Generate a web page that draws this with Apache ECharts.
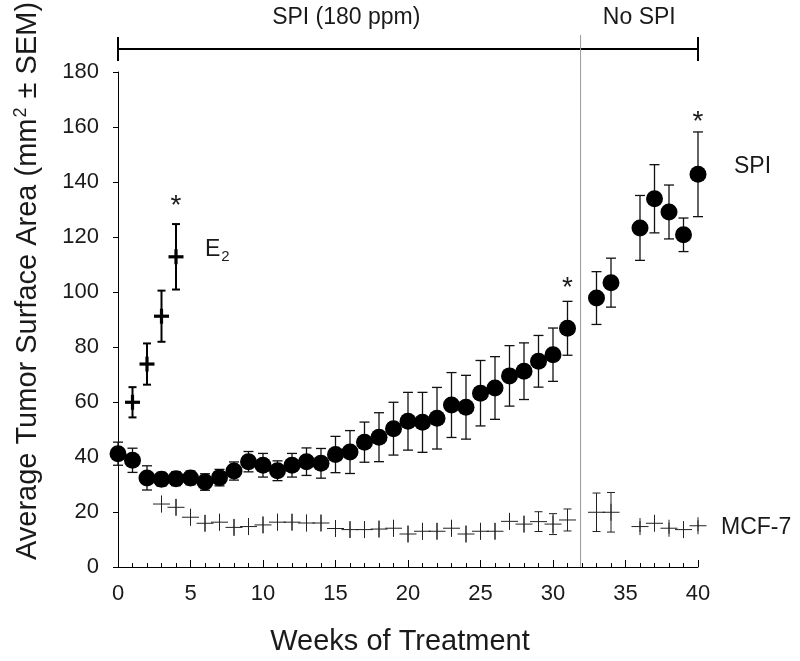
<!DOCTYPE html>
<html><head><meta charset="utf-8">
<script src="https://cdn.jsdelivr.net/npm/echarts@6/dist/echarts.min.js"></script>
<style>html,body{margin:0;padding:0;background:#fff}#c{width:800px;height:661px}</style>
</head><body><div id="c"></div>
<script>
// ---- data ----
const spiWeeks = [0,1,2,3,4,5,6,7,8,9,10,11,12,13,14,15,16,17,18,19,20,21,22,23,24,25,26,27,28,29,30,31,33,34,36,37,38,39,40];
const spiMean  = [41.2,38.8,32.4,31.9,32.1,32.4,30.9,32.5,34.9,38.3,37.0,35.0,37.0,38.3,37.7,40.9,41.8,45.4,47.2,50.3,53.0,52.6,54.1,58.9,58.1,63.2,65.1,69.5,71.2,74.8,77.2,86.8,97.8,103.4,123.3,133.9,129.1,120.8,142.8];
const spiSem   = [4.2,4.4,4.4,2.5,2.5,2.5,3.0,3.0,3.3,3.7,4.3,3.6,4.3,5.0,5.4,6.6,7.8,7.3,8.9,9.6,10.5,10.9,11.2,11.8,11.6,11.9,11.4,11.0,10.3,9.4,9.7,9.8,9.6,8.9,11.8,12.4,9.8,6.1,15.4];

const e2Weeks = [1,2,3,4];
const e2Mean  = [59.9,73.8,91.2,112.8];
const e2Sem   = [5.5,7.5,9.3,11.9];

const mcfWeeks = [3,4,5,6,7,8,9,10,11,12,13,14,15,16,17,18,19,20,21,22,23,24,25,26,27,28,29,30,31,33,34,36,37,38,39,40];
const mcfMean  = [22.9,21.7,18.1,15.9,16.3,14.4,14.7,15.3,16.3,16.3,16.0,16.0,14.0,13.6,13.6,13.8,14.1,12.0,13.0,13.0,14.1,12.0,13.0,13.0,16.6,15.6,16.5,15.6,17.1,19.9,19.9,14.7,15.9,14.1,13.6,15.0];
const mcfSem   = [3,3,3,3,3,3,3,3,3,3,3,3,3,3,3,3,3,3,3,3,3,3,3,3,3,3,3.6,3.8,4.0,7.0,7.2,2,2,2,2,2];

const significance = [[4,133.5],[31,103.5],[40,164]];   // asterisk annotations [week, value]
const phaseBreak = 31.9;                                  // SPI withdrawn
const xTicks = {min:0, max:40, step:5};
const yTicks = {min:0, max:180, step:20};

// ---- chart ----
const FONT = '"Liberation Sans", Arial, sans-serif';
const TXT = '#1a1a1a';
const chart = echarts.init(document.getElementById('c'), null, {renderer:'canvas'});

function rows(w, m, s){ return w.map((x,i)=>[x, m[i], s[i]]); }

function errRender(capHalf, lw, color, minPx){
  return function(params, api){
    const x = api.value(0), m = api.value(1), s = api.value(2);
    const t = api.coord([x, m + s]), b = api.coord([x, m - s]);
    const st = {stroke: color, lineWidth: lw};
    const ch = [{type:'line', shape:{x1:t[0], y1:t[1], x2:b[0], y2:b[1]}, style:st}];
    if ((b[1] - t[1]) / 2 > minPx) {
      ch.push({type:'line', shape:{x1:t[0]-capHalf, y1:t[1], x2:t[0]+capHalf, y2:t[1]}, style:st});
      ch.push({type:'line', shape:{x1:b[0]-capHalf, y1:b[1], x2:b[0]+capHalf, y2:b[1]}, style:st});
    }
    return {type:'group', children: ch};
  };
}
function plusRender(half, lw, color){
  return function(params, api){
    const p = api.coord([api.value(0), api.value(1)]);
    const st = {stroke: color, lineWidth: lw};
    return {type:'group', children:[
      {type:'line', shape:{x1:p[0]-half, y1:p[1], x2:p[0]+half, y2:p[1]}, style:st},
      {type:'line', shape:{x1:p[0], y1:p[1]-half, x2:p[0], y2:p[1]+half}, style:st}
    ]};
  };
}
function starRender(params, api){
  const p = api.coord([api.value(0), api.value(1)]);
  return {type:'text', x:p[0], y:p[1]+6, style:{text:'*', font:'28px ' + FONT, fill:TXT, align:'center', verticalAlign:'middle'}};
}

const option = {
  animation:false,
  backgroundColor:'#fff',
  grid:{left:118, right:102, top:72, bottom:94, containLabel:false},
  xAxis:{type:'value', min:xTicks.min, max:xTicks.max, interval:xTicks.step,
    axisLine:{show:true, onZero:false, lineStyle:{color:'#000', width:1}},
    axisTick:{show:true, inside:true, length:7, lineStyle:{color:'#000'}},
    minorTick:{show:true, splitNumber:5, length:4, lineStyle:{color:'#000'}},
    splitLine:{show:false},
    axisLabel:{fontSize:22, color:TXT, fontFamily:FONT, margin:16}},
  yAxis:{type:'value', min:yTicks.min, max:yTicks.max, interval:yTicks.step,
    axisLine:{show:true, lineStyle:{color:'#000', width:1}},
    axisTick:{show:true, inside:false, length:5, lineStyle:{color:'#000'}},
    splitLine:{show:false},
    axisLabel:{fontSize:22, color:TXT, fontFamily:FONT, margin:19}},
  series:[
    {type:'custom', name:'mcfErr', data:rows(mcfWeeks, mcfMean, mcfSem), encode:{x:0,y:1}, renderItem:errRender(4, 1, '#222', 9), z:2},
    {type:'custom', name:'mcf', data:rows(mcfWeeks, mcfMean, mcfSem), encode:{x:0,y:1}, renderItem:plusRender(8.5, 1, '#222'), z:2},
    {type:'custom', name:'spiErr', data:rows(spiWeeks, spiMean, spiSem), encode:{x:0,y:1}, renderItem:errRender(5, 1.3, '#111', 0), z:3},
    {type:'scatter', name:'SPI', data:spiWeeks.map((w,i)=>[w, spiMean[i]]), symbol:'circle', symbolSize:17, itemStyle:{color:'#000', opacity:1}, z:4},
    {type:'custom', name:'e2Err', data:rows(e2Weeks, e2Mean, e2Sem), encode:{x:0,y:1}, renderItem:errRender(4, 2, '#000', 0), z:5},
    {type:'custom', name:'E2', data:rows(e2Weeks, e2Mean, e2Sem), encode:{x:0,y:1}, renderItem:plusRender(7.5, 3.2, '#000'), z:6},
    {type:'custom', name:'stars', data:significance, encode:{x:0,y:1}, renderItem:starRender, z:7}
  ]
};
chart.setOption(option);

const x0 = chart.convertToPixel({xAxisIndex:0}, xTicks.min);
const x1 = chart.convertToPixel({xAxisIndex:0}, xTicks.max);
const xb = chart.convertToPixel({xAxisIndex:0}, phaseBreak);
const yBase = chart.convertToPixel({yAxisIndex:0}, 0);
const yBar = 49;
chart.setOption({graphic:[
  {type:'line', shape:{x1:xb, y1:35, x2:xb, y2:yBase}, style:{stroke:'#9a9a9a', lineWidth:1}, z:1},
  {type:'line', shape:{x1:x0, y1:yBar, x2:x1, y2:yBar}, style:{stroke:'#000', lineWidth:2}},
  {type:'line', shape:{x1:x0, y1:yBar-12, x2:x0, y2:yBar+12}, style:{stroke:'#000', lineWidth:2}},
  {type:'line', shape:{x1:x1, y1:yBar-12, x2:x1, y2:yBar+12}, style:{stroke:'#000', lineWidth:2}},
  {type:'text', x:(x0+xb)/2 - 3, y:18, style:{text:'SPI (180 ppm)', font:'23px ' + FONT, fill:TXT, align:'center', verticalAlign:'middle'}},
  {type:'text', x:(xb+x1)/2, y:18, style:{text:'No SPI', font:'23px ' + FONT, fill:TXT, align:'center', verticalAlign:'middle'}},
  {type:'text', x:734, y:167, style:{text:'SPI', font:'23px ' + FONT, fill:TXT, align:'left', verticalAlign:'middle'}},
  {type:'text', x:721, y:528, style:{text:'MCF-7', font:'23px ' + FONT, fill:TXT, align:'left', verticalAlign:'middle'}},
  {type:'text', x:205, y:250, style:{text:'E{s|2}', font:'23px ' + FONT, fill:TXT, align:'left', verticalAlign:'middle',
     rich:{s:{fontSize:15, fontFamily:'Liberation Sans, Arial, sans-serif', fill:TXT, padding:[14,0,0,1]}}}},
  {type:'text', x:400, y:642, style:{text:'Weeks of Treatment', font:'29px ' + FONT, fill:TXT, align:'center', verticalAlign:'middle'}},
  {type:'text', x:28, y:281, rotation:Math.PI/2, style:{text:'Average Tumor Surface Area (mm{p|2} ± SEM)', font:'29px ' + FONT, fill:TXT, align:'center', verticalAlign:'middle',
     rich:{p:{fontSize:18, fontFamily:'Liberation Sans, Arial, sans-serif', fill:TXT, padding:[0,1,14,1]}}}}
]});
</script></body></html>
